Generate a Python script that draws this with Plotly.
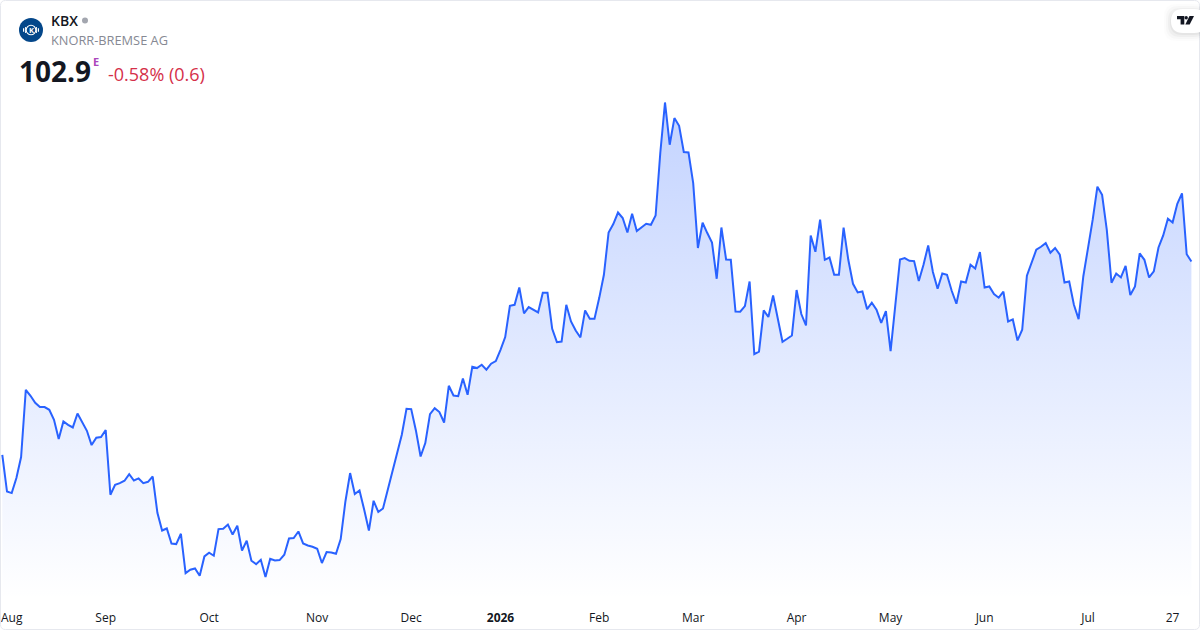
import plotly.graph_objects as go

TICKER = "KBX"
COMPANY = "KNORR-BREMSE AG"
LAST_PRICE = "102.9"
CHANGE_TEXT = "-0.58% (0.6)"

prices = [
    86.79, 83.73, 83.60, 84.85, 86.60, 92.21, 91.71, 91.13, 90.77, 90.77,
    90.54, 89.71, 88.10, 89.57, 89.29, 89.07, 90.23, 89.52, 88.79, 87.60,
    88.21, 88.27, 88.85, 83.46, 84.29, 84.43, 84.63, 85.18, 84.65, 84.82,
    84.43, 84.54, 84.98, 81.96, 80.48, 80.65, 79.40, 79.35, 80.21, 76.93,
    77.21, 77.32, 76.71, 78.32, 78.63, 78.38, 80.60, 80.63, 80.98, 80.15,
    80.88, 78.82, 79.63, 77.96, 77.68, 78.04, 76.60, 78.13, 77.98, 78.02,
    78.46, 79.82, 79.85, 80.40, 79.40, 79.23, 79.13, 78.96, 77.77, 78.68,
    78.65, 78.54, 79.77, 82.90, 85.27, 83.52, 83.82, 82.21, 80.48, 82.96,
    82.02, 82.32, 83.88, 85.40, 86.79, 88.46, 90.63, 90.60, 88.82, 86.65,
    87.77, 90.18, 90.68, 90.35, 89.48, 92.54, 91.73, 91.68, 93.15, 91.79,
    94.13, 94.02, 94.29, 93.88, 94.38, 94.60, 95.54, 96.60, 99.21, 99.29,
    100.73, 98.57, 99.10, 98.85, 98.65, 100.29, 100.29, 97.29, 96.18, 96.23,
    99.29, 97.90, 97.15, 96.57, 98.82, 98.13, 98.13, 99.85, 101.79, 105.32,
    106.02, 106.98, 106.52, 105.32, 106.88, 105.43, 105.73, 106.04, 105.96, 106.73,
    111.96, 116.15, 112.63, 114.85, 114.21, 112.02, 111.98, 109.43, 104.02, 106.13,
    105.27, 104.48, 101.46, 105.73, 103.07, 103.04, 98.73, 98.71, 99.18, 101.23,
    95.18, 95.38, 98.82, 98.27, 100.07, 98.04, 96.21, 96.46, 96.73, 100.52,
    98.52, 97.57, 105.07, 103.71, 106.38, 103.04, 103.23, 101.79, 101.79, 105.73,
    103.04, 101.04, 100.32, 100.40, 98.93, 99.46, 98.88, 97.79, 98.77, 95.43,
    99.15, 103.07, 103.18, 102.96, 102.93, 101.27, 102.63, 104.23, 102.02, 100.63,
    101.90, 101.79, 100.46, 99.38, 101.23, 101.15, 102.63, 102.32, 103.68, 100.73,
    100.82, 100.18, 99.88, 100.38, 97.90, 98.07, 96.32, 97.21, 101.71, 102.82,
    103.88, 104.13, 104.43, 103.63, 104.02, 103.46, 101.15, 101.23, 99.29, 98.10,
    101.65, 104.02, 106.38, 109.13, 108.46, 105.54, 101.13, 101.90, 101.57, 102.54,
    100.10, 100.82, 103.57, 103.04, 101.57, 102.07, 104.07, 105.07, 106.46, 106.15,
    107.71, 108.57, 103.50, 102.90,
]
sessions = list(range(len(prices)))

tick_sessions = [2, 22, 44, 67, 87, 106, 127, 147, 169, 189, 209, 231, 249]
tick_labels = ["Aug", "Sep", "Oct", "Nov", "Dec", "<b>2026</b>", "Feb", "Mar", "Apr", "May", "Jun", "Jul", "27"]

LINE = "#2962FF"
W, H, PLOT_H = 1200, 630, 600


def px(x):
    return x / W


def py(y):
    return 1 - y / PLOT_H


def shape(path, fill, line=None, width=0):
    return dict(type="path", xref="paper", yref="paper", path=path,
                fillcolor=fill, line=dict(color=line or "rgba(0,0,0,0)", width=width), layer="above")


def rounded(x0, y0, x1, y1, r):
    return (f"M{px(x0+r)},{py(y0)} L{px(x1-r)},{py(y0)} Q{px(x1)},{py(y0)} {px(x1)},{py(y0+r)} "
            f"L{px(x1)},{py(y1-r)} Q{px(x1)},{py(y1)} {px(x1-r)},{py(y1)} L{px(x0+r)},{py(y1)} "
            f"Q{px(x0)},{py(y1)} {px(x0)},{py(y1-r)} L{px(x0)},{py(y0+r)} Q{px(x0)},{py(y0)} {px(x0+r)},{py(y0)} Z")


def poly(points):
    return "M" + " L".join(f"{px(x)},{py(y)}" for x, y in points) + " Z"


def circle(cx, cy, r, fill, line=None, width=0):
    return dict(type="circle", xref="paper", yref="paper",
                x0=px(cx - r), x1=px(cx + r), y0=py(cy + r), y1=py(cy - r),
                fillcolor=fill, line=dict(color=line or "rgba(0,0,0,0)", width=width), layer="above")


def label(x, y, text, size, color, weight=400, anchor="left", shift=-2):
    return dict(xref="paper", yref="paper", x=px(x), y=py(y), text=text, showarrow=False,
                xanchor=anchor, yanchor="middle", align="left", xshift=shift,
                font=dict(family="Open Sans", size=size, color=color, weight=weight))


fig = go.Figure(go.Scatter(
    x=sessions, y=prices, mode="lines", fill="tozeroy", hoverinfo="skip",
    line=dict(color=LINE, width=2, shape="linear"),
    fillgradient=dict(type="vertical", start=74.7, stop=116.15,
                      colorscale=[[0, "rgba(41,98,255,0)"], [1, "rgba(41,98,255,0.28)"]]),
))

shapes = [
    dict(type="path", xref="paper", yref="paper", path=rounded(0.5, 0.5, 1199.5, 629.5, 5),
         fillcolor="rgba(0,0,0,0)", line=dict(color="#e6e8ee", width=1), layer="above"),
    circle(85, 20.5, 3, "#a3a6af"),
    circle(31, 30, 12, "#04478a"),
    circle(31, 30, 4.8, "rgba(0,0,0,0)", "#ffffff", 1.1),
    shape(poly([(23, 28.3), (24.2, 28.3), (24.2, 31.7), (23, 31.7)]), "#ffffff"),
    shape(poly([(37.8, 28.3), (39, 28.3), (39, 31.7), (37.8, 31.7)]), "#ffffff"),
    shape(poly([(25, 27), (25.9, 27), (25.9, 33), (25, 33)]), "#ffffff"),
    shape(poly([(36.1, 27), (37, 27), (37, 33), (36.1, 33)]), "#ffffff"),
]
for grow, alpha in ((7, 0.012), (5, 0.02), (3, 0.03), (1, 0.04)):
    shapes.append(shape(rounded(1171 - grow, 9 - grow + 2, 1206, 33 + grow + 1, 12), f"rgba(0,0,0,{alpha})"))
shapes.append(shape(rounded(1171, 9, 1206, 33, 12), "#ffffff"))
shapes += [
    shape(poly([(1177, 16), (1184.3, 16), (1184.3, 24.5), (1180.6, 24.5), (1180.6, 19.3), (1177, 19.3)]), "#131722"),
    circle(1186.2, 17.7, 1.7, "#131722"),
    shape(poly([(1189.5, 16), (1194, 16), (1189.7, 24.5), (1185.3, 24.5)]), "#131722"),
]

annotations = [
    label(51, 20.5, TICKER, 14, "#131722", 600),
    label(51, 40, COMPANY, 12.8, "#868993"),
    label(19, 71, LAST_PRICE, 28, "#131722", 700),
    label(92.5, 61, "E", 11, "#ab47bc", 700),
    label(108, 74.5, CHANGE_TEXT, 18, "#d5304a"),
    label(31, 30, "K", 7.5, "#ffffff", 700, anchor="center", shift=0),
]

fig.update_layout(
    width=W, height=H, margin=dict(l=0, r=0, t=0, b=H - PLOT_H, pad=0),
    paper_bgcolor="#ffffff", plot_bgcolor="#ffffff", showlegend=False,
    shapes=shapes, annotations=annotations,
    xaxis=dict(range=[-0.489, 254.83], showgrid=False, zeroline=False, showline=False,
               tickmode="array", tickvals=tick_sessions, ticktext=tick_labels,
               ticks="outside", ticklen=7, tickcolor="rgba(0,0,0,0)",
               tickfont=dict(family="Open Sans", size=12, color="#131722")),
    yaxis=dict(range=[74.69, 124.69], visible=False, showgrid=False, zeroline=False),
)

fig.write_html("out.html", config={"displayModeBar": False},
               post_script="document.body.style.margin='0';")
